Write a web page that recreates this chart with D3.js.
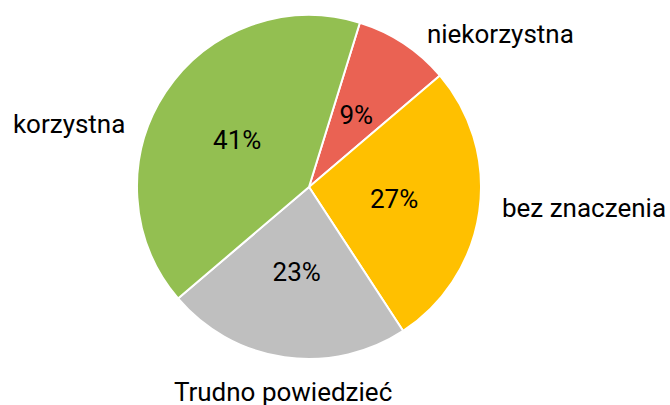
<!DOCTYPE html>
<html>
<head>
<meta charset="utf-8">
<script src="https://cdn.jsdelivr.net/npm/d3@7"></script>
<style>
  body { margin: 0; background: #fff; }
  text { font-family: Roboto, "Noto Sans", sans-serif; fill: #000; }
</style>
</head>
<body>
<div id="chart"></div>
<script>
// dane
const categories = ["niekorzystna", "bez znaczenia", "Trudno powiedzieć", "korzystna"];
const values = [9, 27, 23, 41];
const colors = ["#EA6253", "#FFC000", "#BFBFBF", "#93BF51"];

const width = 670;
const height = 405;
const cx = 309, cy = 187;
const radius = 172;
const labelRadius = 196;
const fontSize = 26;

// przesunięcia etykiet zewnętrznych (dopasowanie jak w Excelu)
const labelNudge = {
  "niekorzystna": [10, 21],
  "bez znaczenia": [-1, -9],
  "Trudno powiedzieć": [2, -2],
  "korzystna": [-20, 52]
};

const data = categories.map((c, i) => ({ category: c, value: values[i], color: colors[i] }));

const svg = d3.select("#chart").append("svg")
  .attr("width", width)
  .attr("height", height);

const g = svg.append("g")
  .attr("transform", `translate(${cx},${cy})`);

const startAngle = 17.2 * Math.PI / 180;
const pie = d3.pie()
  .value(d => d.value)
  .sort(null)
  .startAngle(startAngle)
  .endAngle(startAngle + 2 * Math.PI);

const arc = d3.arc().innerRadius(0).outerRadius(radius);
const arcs = pie(data);

g.selectAll("path")
  .data(arcs)
  .enter().append("path")
  .attr("d", arc)
  .attr("fill", d => d.data.color)
  .attr("stroke", "#fff")
  .attr("stroke-width", 2)
  .attr("stroke-linejoin", "round");

// procenty w środku
g.append("g")
  .selectAll("text")
  .data(arcs)
  .enter().append("text")
  .attr("x", d => arc.centroid(d)[0])
  .attr("y", d => arc.centroid(d)[1])
  .attr("dy", "0.35em")
  .attr("text-anchor", "middle")
  .style("font-size", fontSize + "px")
  .text(d => d.data.value + "%");

// nazwy kategorii na zewnątrz
g.append("g")
  .selectAll("text")
  .data(arcs)
  .enter().append("text")
  .each(function(d) {
    const a = (d.startAngle + d.endAngle) / 2;
    const s = Math.sin(a), c = -Math.cos(a);
    const nudge = labelNudge[d.data.category] || [0, 0];
    const px = labelRadius * s + nudge[0];
    const py = labelRadius * c + (fontSize / 2) * c + nudge[1];
    const anchor = s > 0.3 ? "start" : (s < -0.3 ? "end" : "middle");
    d3.select(this)
      .attr("x", px)
      .attr("y", py)
      .attr("dy", "0.35em")
      .attr("text-anchor", anchor);
  })
  .style("font-size", fontSize + "px")
  .text(d => d.data.category);
</script>
</body>
</html>
